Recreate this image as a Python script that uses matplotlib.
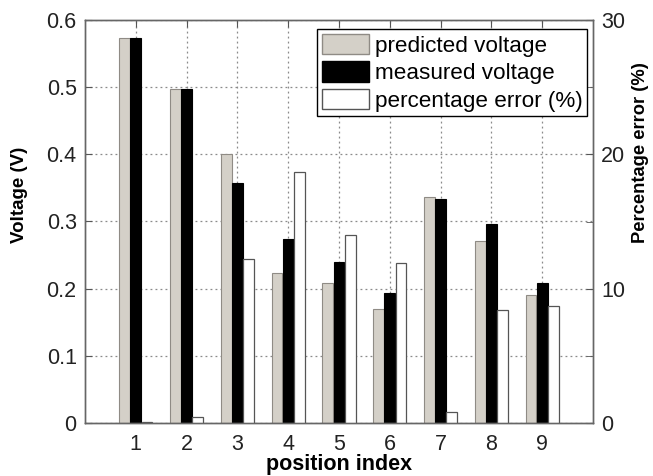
import matplotlib
matplotlib.use("Agg")
import matplotlib.pyplot as plt
import numpy as np
from matplotlib.patches import Patch
from matplotlib.ticker import MultipleLocator

plt.rcParams['font.family'] = ['Liberation Sans', 'DejaVu Sans']

positions = [1, 2, 3, 4, 5, 6, 7, 8, 9]
predicted_voltage = [0.573, 0.498, 0.401, 0.223, 0.208, 0.170, 0.337, 0.271, 0.191]
measured_voltage = [0.573, 0.497, 0.357, 0.274, 0.240, 0.193, 0.334, 0.296, 0.208]
percentage_error = [0.05, 0.47, 12.2, 18.7, 14.0, 11.9, 0.8, 8.4, 8.7]

FS = 15.5
GRAY = '#d4d0c8'
x = np.array(positions, dtype=float)
w = 0.21
off = 0.22

fig = plt.figure(figsize=(6.53, 4.76), dpi=100)
ax = fig.add_axes([85 / 653, 53 / 476, 508 / 653, 403 / 476])
ax2 = ax.twinx()

ax.set_axisbelow(True)
ax.grid(True, linestyle=(0, (1.5, 2.5)), color='#8a8a8a', linewidth=0.9)

ax.bar(x - off, predicted_voltage, width=w, color=GRAY, edgecolor='#8f8b85', linewidth=0.8, zorder=2)
ax.bar(x, measured_voltage, width=w, color='black', edgecolor='black', linewidth=0.8, zorder=2)
ax2.bar(x + off, percentage_error, width=w, color='white', edgecolor='#555555', linewidth=0.9, zorder=2)

ax.set_xlim(0, 10)
ax.set_ylim(0, 0.6)
ax2.set_ylim(0, 30)
ax.set_xticks(positions)
ax.set_yticks(np.arange(0, 0.61, 0.1))
ax.set_yticklabels(['0', '0.1', '0.2', '0.3', '0.4', '0.5', '0.6'])
ax2.set_yticks([0, 10, 20, 30])
ax2.yaxis.set_minor_locator(MultipleLocator(5))

ax.tick_params(axis='both', direction='in', length=5, labelsize=FS, colors='#555555',
               labelcolor='#222222', top=True, right=False, pad=6)
ax.tick_params(axis='x', pad=8)
ax2.tick_params(axis='y', which='both', direction='in', length=5, labelsize=FS,
                colors='#555555', labelcolor='#222222', pad=6)

for a in (ax, ax2):
    for s in a.spines.values():
        s.set_color('#666666')
        s.set_linewidth(1.0)

ax.set_xlabel('position index', fontsize=FS, fontweight='bold')
ax.xaxis.set_label_coords(0.5, -0.078)
ax.set_ylabel('Voltage (V)', fontsize=13.5, fontweight='bold')
ax.yaxis.set_label_coords(-0.112, 0.566)
ax2.set_ylabel('Percentage error (%)', fontsize=13.2, fontweight='bold')
ax2.yaxis.set_label_coords(1.077, 0.67)

handles = [
    Patch(facecolor=GRAY, edgecolor='#8f8b85', label='predicted voltage'),
    Patch(facecolor='black', edgecolor='black', label='measured voltage'),
    Patch(facecolor='white', edgecolor='#555555', label='percentage error (%)'),
]
leg = ax2.legend(handles=handles, loc='upper right', bbox_to_anchor=(0.988, 0.977),
                 fontsize=16.2, frameon=True, fancybox=False, framealpha=1,
                 edgecolor='black', handlelength=2.1, handleheight=1.0,
                 handletextpad=0.25, labelspacing=0.22, borderpad=0.2,
                 borderaxespad=0.0)
leg.get_frame().set_linewidth(1.0)

fig.savefig('out.png', dpi=100)
